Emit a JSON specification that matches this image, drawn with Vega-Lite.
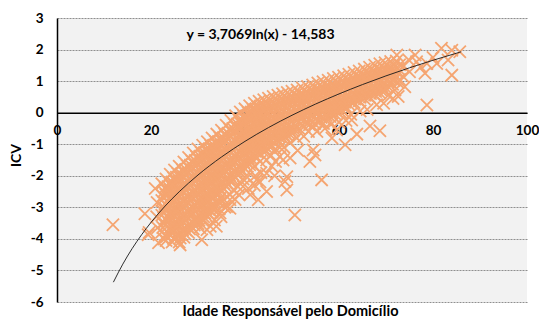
{
  "$schema": "https://vega.github.io/schema/vega-lite/v6.json",
  "width": 470,
  "height": 284,
  "autosize": {"type": "none"},
  "padding": {"left": 57, "top": 18, "right": 12, "bottom": 20},
  "background": "white",
  "config": {"view": {"fill": "#F2F2F2", "stroke": null}, "font": "Lato"},
  "datasets": {
    "pts": [
      {"x":11.9,"y":-3.55},{"x":18.7,"y":-3.2},{"x":19.6,"y":-3.8},{"x":20.9,"y":-2.4},{"x":21.3,"y":-2.85},{"x":21.2,"y":-3.3},{"x":21.6,"y":-4.12},{"x":21.4,"y":-3.65},
      {"x":22.3,"y":-2.25},{"x":22.7,"y":-2.5},{"x":22.3,"y":-2.78},{"x":22.7,"y":-3.0},{"x":22.3,"y":-3.25},{"x":22.7,"y":-3.5},{"x":22.3,"y":-3.78},{"x":22.7,"y":-4.0},
      {"x":23.2,"y":-2.1},{"x":23.6,"y":-2.35},{"x":23.2,"y":-2.6},{"x":23.6,"y":-2.82},{"x":23.2,"y":-3.08},{"x":23.6,"y":-3.3},{"x":23.2,"y":-3.55},{"x":23.6,"y":-3.8},{"x":23.2,"y":-4.05},
      {"x":24.1,"y":-1.95},{"x":24.5,"y":-2.2},{"x":24.1,"y":-2.45},{"x":24.5,"y":-2.7},{"x":24.1,"y":-2.92},{"x":24.5,"y":-3.18},{"x":24.1,"y":-3.4},{"x":24.5,"y":-3.65},{"x":24.1,"y":-3.88},{"x":24.5,"y":-4.1},
      {"x":25.0,"y":-1.82},{"x":25.4,"y":-2.05},{"x":25.0,"y":-2.3},{"x":25.4,"y":-2.55},{"x":25.0,"y":-2.8},{"x":25.4,"y":-3.02},{"x":25.0,"y":-3.27},{"x":25.4,"y":-3.5},{"x":25.0,"y":-3.74},{"x":25.4,"y":-3.96},
      {"x":26.0,"y":-1.7},{"x":26.4,"y":-1.95},{"x":26.0,"y":-2.18},{"x":26.4,"y":-2.42},{"x":26.0,"y":-2.66},{"x":26.4,"y":-2.9},{"x":26.0,"y":-3.14},{"x":26.4,"y":-3.38},{"x":26.0,"y":-3.6},{"x":26.4,"y":-3.85},{"x":26.0,"y":-4.1},
      {"x":27.0,"y":-1.56},{"x":27.4,"y":-1.8},{"x":27.0,"y":-2.04},{"x":27.4,"y":-2.28},{"x":27.0,"y":-2.52},{"x":27.4,"y":-2.76},{"x":27.0,"y":-3.0},{"x":27.4,"y":-3.24},{"x":27.0,"y":-3.48},{"x":27.4,"y":-3.72},{"x":27.0,"y":-3.95},
      {"x":28.0,"y":-1.42},{"x":28.4,"y":-1.66},{"x":28.0,"y":-1.9},{"x":28.4,"y":-2.14},{"x":28.0,"y":-2.38},{"x":28.4,"y":-2.62},{"x":28.0,"y":-2.86},{"x":28.4,"y":-3.1},{"x":28.0,"y":-3.34},{"x":28.4,"y":-3.58},{"x":28.0,"y":-3.8},
      {"x":29.0,"y":-1.28},{"x":29.4,"y":-1.52},{"x":29.0,"y":-1.76},{"x":29.4,"y":-2.0},{"x":29.0,"y":-2.24},{"x":29.4,"y":-2.48},{"x":29.0,"y":-2.72},{"x":29.4,"y":-2.96},{"x":29.0,"y":-3.2},{"x":29.4,"y":-3.44},{"x":29.0,"y":-3.68},
      {"x":30.0,"y":-1.15},{"x":30.4,"y":-1.38},{"x":30.0,"y":-1.62},{"x":30.4,"y":-1.86},{"x":30.0,"y":-2.1},{"x":30.4,"y":-2.34},{"x":30.0,"y":-2.58},{"x":30.4,"y":-2.82},{"x":30.0,"y":-3.06},{"x":30.4,"y":-3.3},{"x":30.0,"y":-3.52},
      {"x":31.0,"y":-1.03},{"x":31.4,"y":-1.27},{"x":31.0,"y":-1.5},{"x":31.4,"y":-1.74},{"x":31.0,"y":-1.98},{"x":31.4,"y":-2.22},{"x":31.0,"y":-2.46},{"x":31.4,"y":-2.7},{"x":31.0,"y":-2.94},{"x":31.4,"y":-3.18},{"x":31.0,"y":-3.42},
      {"x":32.0,"y":-0.92},{"x":32.4,"y":-1.15},{"x":32.0,"y":-1.4},{"x":32.4,"y":-1.64},{"x":32.0,"y":-1.88},{"x":32.4,"y":-2.12},{"x":32.0,"y":-2.36},{"x":32.4,"y":-2.6},{"x":32.0,"y":-2.84},{"x":32.4,"y":-3.08},{"x":32.0,"y":-3.3},
      {"x":33.0,"y":-0.8},{"x":33.4,"y":-1.04},{"x":33.0,"y":-1.28},{"x":33.4,"y":-1.52},{"x":33.0,"y":-1.76},{"x":33.4,"y":-2.0},{"x":33.0,"y":-2.24},{"x":33.4,"y":-2.48},{"x":33.0,"y":-2.72},{"x":33.4,"y":-2.96},{"x":33.0,"y":-3.15},
      {"x":34.0,"y":-0.68},{"x":34.4,"y":-0.92},{"x":34.0,"y":-1.16},{"x":34.4,"y":-1.4},{"x":34.0,"y":-1.64},{"x":34.4,"y":-1.88},{"x":34.0,"y":-2.12},{"x":34.4,"y":-2.36},{"x":34.0,"y":-2.6},{"x":34.4,"y":-2.85},
      {"x":35.0,"y":-0.56},{"x":35.4,"y":-0.8},{"x":35.0,"y":-1.04},{"x":35.4,"y":-1.28},{"x":35.0,"y":-1.52},{"x":35.4,"y":-1.76},{"x":35.0,"y":-2.0},{"x":35.4,"y":-2.24},{"x":35.0,"y":-2.5},
      {"x":36.0,"y":-0.4},{"x":36.4,"y":-0.65},{"x":36.0,"y":-0.9},{"x":36.4,"y":-1.14},{"x":36.0,"y":-1.38},{"x":36.4,"y":-1.62},{"x":36.0,"y":-1.86},{"x":36.4,"y":-2.1},{"x":36.0,"y":-2.34},
      {"x":37.0,"y":-0.25},{"x":37.4,"y":-0.5},{"x":37.0,"y":-0.75},{"x":37.4,"y":-1.0},{"x":37.0,"y":-1.24},{"x":37.4,"y":-1.48},{"x":37.0,"y":-1.72},{"x":37.4,"y":-1.96},{"x":37.0,"y":-2.2},
      {"x":38.0,"y":-0.1},{"x":38.4,"y":-0.36},{"x":38.0,"y":-0.6},{"x":38.4,"y":-0.85},{"x":38.0,"y":-1.1},{"x":38.4,"y":-1.34},{"x":38.0,"y":-1.58},{"x":38.4,"y":-1.82},{"x":38.0,"y":-2.06},
      {"x":39.0,"y":0.02},{"x":39.4,"y":-0.24},{"x":39.0,"y":-0.48},{"x":39.4,"y":-0.72},{"x":39.0,"y":-0.96},{"x":39.4,"y":-1.2},{"x":39.0,"y":-1.44},{"x":39.4,"y":-1.68},{"x":39.0,"y":-1.92},
      {"x":40.0,"y":0.12},{"x":40.4,"y":-0.12},{"x":40.0,"y":-0.36},{"x":40.4,"y":-0.6},{"x":40.0,"y":-0.84},{"x":40.4,"y":-1.08},{"x":40.0,"y":-1.32},{"x":40.4,"y":-1.56},{"x":40.0,"y":-1.78},
      {"x":41.0,"y":0.22},{"x":41.4,"y":-0.02},{"x":41.0,"y":-0.26},{"x":41.4,"y":-0.5},{"x":41.0,"y":-0.74},{"x":41.4,"y":-0.98},{"x":41.0,"y":-1.22},{"x":41.4,"y":-1.46},{"x":41.0,"y":-1.65},
      {"x":42.0,"y":0.3},{"x":42.4,"y":0.06},{"x":42.0,"y":-0.18},{"x":42.4,"y":-0.42},{"x":42.0,"y":-0.66},{"x":42.4,"y":-0.9},{"x":42.0,"y":-1.14},{"x":42.4,"y":-1.4},
      {"x":43.0,"y":0.36},{"x":43.4,"y":0.12},{"x":43.0,"y":-0.12},{"x":43.4,"y":-0.36},{"x":43.0,"y":-0.6},{"x":43.4,"y":-0.84},{"x":43.0,"y":-1.08},{"x":43.4,"y":-1.32},
      {"x":44.0,"y":0.41},{"x":44.4,"y":0.17},{"x":44.0,"y":-0.07},{"x":44.4,"y":-0.31},{"x":44.0,"y":-0.55},{"x":44.4,"y":-0.79},{"x":44.0,"y":-1.03},{"x":44.4,"y":-1.22},
      {"x":45.0,"y":0.46},{"x":45.4,"y":0.22},{"x":45.0,"y":-0.02},{"x":45.4,"y":-0.26},{"x":45.0,"y":-0.5},{"x":45.4,"y":-0.74},{"x":45.0,"y":-0.98},{"x":45.4,"y":-1.1},
      {"x":46.0,"y":0.51},{"x":46.4,"y":0.27},{"x":46.0,"y":0.03},{"x":46.4,"y":-0.21},{"x":46.0,"y":-0.45},{"x":46.4,"y":-0.69},{"x":46.0,"y":-0.94},
      {"x":47.0,"y":0.55},{"x":47.4,"y":0.31},{"x":47.0,"y":0.07},{"x":47.4,"y":-0.17},{"x":47.0,"y":-0.41},{"x":47.4,"y":-0.65},{"x":47.0,"y":-0.86},
      {"x":48.0,"y":0.6},{"x":48.4,"y":0.36},{"x":48.0,"y":0.12},{"x":48.4,"y":-0.12},{"x":48.0,"y":-0.36},{"x":48.4,"y":-0.6},{"x":48.0,"y":-0.8},
      {"x":49.0,"y":0.64},{"x":49.4,"y":0.4},{"x":49.0,"y":0.16},{"x":49.4,"y":-0.08},{"x":49.0,"y":-0.32},{"x":49.4,"y":-0.56},{"x":49.0,"y":-0.72},
      {"x":50.0,"y":0.68},{"x":50.4,"y":0.44},{"x":50.0,"y":0.2},{"x":50.4,"y":-0.04},{"x":50.0,"y":-0.28},{"x":50.4,"y":-0.52},{"x":50.0,"y":-0.65},
      {"x":51.1,"y":0.72},{"x":51.5,"y":0.48},{"x":51.1,"y":0.24},{"x":51.5,"y":0.0},{"x":51.1,"y":-0.24},{"x":51.5,"y":-0.5},
      {"x":52.2,"y":0.78},{"x":52.6,"y":0.54},{"x":52.2,"y":0.3},{"x":52.6,"y":0.06},{"x":52.2,"y":-0.18},{"x":52.6,"y":-0.44},
      {"x":53.3,"y":0.83},{"x":53.7,"y":0.59},{"x":53.3,"y":0.35},{"x":53.7,"y":0.11},{"x":53.3,"y":-0.13},{"x":53.7,"y":-0.38},
      {"x":54.4,"y":0.88},{"x":54.8,"y":0.64},{"x":54.4,"y":0.4},{"x":54.8,"y":0.16},{"x":54.4,"y":-0.08},{"x":54.8,"y":-0.34},
      {"x":55.5,"y":0.94},{"x":55.9,"y":0.7},{"x":55.5,"y":0.46},{"x":55.9,"y":0.22},{"x":55.5,"y":-0.02},{"x":55.9,"y":-0.28},
      {"x":56.6,"y":0.98},{"x":57.0,"y":0.74},{"x":56.6,"y":0.5},{"x":57.0,"y":0.26},{"x":56.6,"y":0.02},{"x":57.0,"y":-0.2},
      {"x":57.7,"y":1.03},{"x":58.1,"y":0.79},{"x":57.7,"y":0.55},{"x":58.1,"y":0.31},{"x":57.7,"y":0.07},{"x":58.1,"y":-0.12},
      {"x":58.8,"y":1.08},{"x":59.2,"y":0.84},{"x":58.8,"y":0.6},{"x":59.2,"y":0.36},{"x":58.8,"y":0.12},{"x":59.2,"y":-0.05},
      {"x":59.9,"y":1.12},{"x":60.3,"y":0.88},{"x":59.9,"y":0.64},{"x":60.3,"y":0.4},{"x":59.9,"y":0.16},{"x":60.3,"y":0.02},
      {"x":61.0,"y":1.17},{"x":61.4,"y":0.93},{"x":61.0,"y":0.69},{"x":61.4,"y":0.45},{"x":61.0,"y":0.21},{"x":61.4,"y":0.1},
      {"x":62.1,"y":1.22},{"x":62.5,"y":0.98},{"x":62.1,"y":0.74},{"x":62.5,"y":0.5},{"x":62.1,"y":0.26},
      {"x":63.2,"y":1.27},{"x":63.6,"y":1.03},{"x":63.2,"y":0.79},{"x":63.6,"y":0.55},{"x":63.2,"y":0.32},
      {"x":64.3,"y":1.32},{"x":64.7,"y":1.08},{"x":64.3,"y":0.84},{"x":64.7,"y":0.6},{"x":64.3,"y":0.38},
      {"x":65.4,"y":1.38},{"x":65.8,"y":1.14},{"x":65.4,"y":0.9},{"x":65.8,"y":0.66},{"x":65.4,"y":0.44},
      {"x":66.5,"y":1.44},{"x":66.9,"y":1.2},{"x":66.5,"y":0.96},{"x":66.9,"y":0.72},{"x":66.5,"y":0.5},
      {"x":67.6,"y":1.5},{"x":68.0,"y":1.26},{"x":67.6,"y":1.02},{"x":68.0,"y":0.78},{"x":67.6,"y":0.56},
      {"x":68.7,"y":1.55},{"x":69.1,"y":1.31},{"x":68.7,"y":1.07},{"x":69.1,"y":0.83},{"x":68.7,"y":0.62},
      {"x":69.8,"y":1.58},{"x":70.2,"y":1.34},{"x":69.8,"y":1.1},{"x":70.2,"y":0.86},{"x":69.8,"y":0.7},
      {"x":71.0,"y":1.62},{"x":71.4,"y":1.38},{"x":71.0,"y":1.14},{"x":71.4,"y":0.9},
      {"x":72.2,"y":1.64},{"x":72.6,"y":1.4},{"x":72.2,"y":1.16},{"x":72.6,"y":0.95},

      {"x":23.0,"y":-2.37},{"x":22.5,"y":-2.64},{"x":23.0,"y":-2.89},{"x":22.5,"y":-3.12},{"x":23.0,"y":-3.37},{"x":22.5,"y":-3.64},{"x":23.0,"y":-3.89},
      {"x":23.9,"y":-2.22},{"x":23.4,"y":-2.47},{"x":23.9,"y":-2.71},{"x":23.4,"y":-2.95},{"x":23.9,"y":-3.19},{"x":23.4,"y":-3.42},{"x":23.9,"y":-3.67},{"x":23.4,"y":-3.92},
      {"x":24.8,"y":-2.07},{"x":24.3,"y":-2.32},{"x":24.8,"y":-2.57},{"x":24.3,"y":-2.81},{"x":24.8,"y":-3.05},{"x":24.3,"y":-3.29},{"x":24.8,"y":-3.52},{"x":24.3,"y":-3.76},{"x":24.8,"y":-3.99},
      {"x":25.7,"y":-1.93},{"x":25.2,"y":-2.17},{"x":25.7,"y":-2.42},{"x":25.2,"y":-2.67},{"x":25.7,"y":-2.91},{"x":25.2,"y":-3.14},{"x":25.7,"y":-3.38},{"x":25.2,"y":-3.62},{"x":25.7,"y":-3.85},
      {"x":26.7,"y":-1.82},{"x":26.2,"y":-2.06},{"x":26.7,"y":-2.3},{"x":26.2,"y":-2.54},{"x":26.7,"y":-2.78},{"x":26.2,"y":-3.02},{"x":26.7,"y":-3.26},{"x":26.2,"y":-3.49},{"x":26.7,"y":-3.72},{"x":26.2,"y":-3.97},
      {"x":27.7,"y":-1.68},{"x":27.2,"y":-1.92},{"x":27.7,"y":-2.16},{"x":27.2,"y":-2.4},{"x":27.7,"y":-2.64},{"x":27.2,"y":-2.88},{"x":27.7,"y":-3.12},{"x":27.2,"y":-3.36},{"x":27.7,"y":-3.6},{"x":27.2,"y":-3.84},
      {"x":28.7,"y":-1.54},{"x":28.2,"y":-1.78},{"x":28.7,"y":-2.02},{"x":28.2,"y":-2.26},{"x":28.7,"y":-2.5},{"x":28.2,"y":-2.74},{"x":28.7,"y":-2.98},{"x":28.2,"y":-3.22},{"x":28.7,"y":-3.46},{"x":28.2,"y":-3.69},
      {"x":29.7,"y":-1.4},{"x":29.2,"y":-1.64},{"x":29.7,"y":-1.88},{"x":29.2,"y":-2.12},{"x":29.7,"y":-2.36},{"x":29.2,"y":-2.6},{"x":29.7,"y":-2.84},{"x":29.2,"y":-3.08},{"x":29.7,"y":-3.32},{"x":29.2,"y":-3.56},
      {"x":30.7,"y":-1.27},{"x":30.2,"y":-1.5},{"x":30.7,"y":-1.74},{"x":30.2,"y":-1.98},{"x":30.7,"y":-2.22},{"x":30.2,"y":-2.46},{"x":30.7,"y":-2.7},{"x":30.2,"y":-2.94},{"x":30.7,"y":-3.18},{"x":30.2,"y":-3.41},
      {"x":31.7,"y":-1.15},{"x":31.2,"y":-1.39},{"x":31.7,"y":-1.62},{"x":31.2,"y":-1.86},{"x":31.7,"y":-2.1},{"x":31.2,"y":-2.34},{"x":31.7,"y":-2.58},{"x":31.2,"y":-2.82},{"x":31.7,"y":-3.06},{"x":31.2,"y":-3.3},
      {"x":32.7,"y":-1.04},{"x":32.2,"y":-1.28},{"x":32.7,"y":-1.52},{"x":32.2,"y":-1.76},{"x":32.7,"y":-2.0},{"x":32.2,"y":-2.24},{"x":32.7,"y":-2.48},{"x":32.2,"y":-2.72},{"x":32.7,"y":-2.96},{"x":32.2,"y":-3.19},
      {"x":33.7,"y":-0.92},{"x":33.2,"y":-1.16},{"x":33.7,"y":-1.4},{"x":33.2,"y":-1.64},{"x":33.7,"y":-1.88},{"x":33.2,"y":-2.12},{"x":33.7,"y":-2.36},{"x":33.2,"y":-2.6},{"x":33.7,"y":-2.84},{"x":33.2,"y":-3.06},
      {"x":34.7,"y":-0.8},{"x":34.2,"y":-1.04},{"x":34.7,"y":-1.28},{"x":34.2,"y":-1.52},{"x":34.7,"y":-1.76},{"x":34.2,"y":-2.0},{"x":34.7,"y":-2.24},{"x":34.2,"y":-2.48},{"x":34.7,"y":-2.72},
      {"x":35.7,"y":-0.68},{"x":35.2,"y":-0.92},{"x":35.7,"y":-1.16},{"x":35.2,"y":-1.4},{"x":35.7,"y":-1.64},{"x":35.2,"y":-1.88},{"x":35.7,"y":-2.12},{"x":35.2,"y":-2.37},
      {"x":36.7,"y":-0.52},{"x":36.2,"y":-0.78},{"x":36.7,"y":-1.02},{"x":36.2,"y":-1.26},{"x":36.7,"y":-1.5},{"x":36.2,"y":-1.74},{"x":36.7,"y":-1.98},{"x":36.2,"y":-2.22},
      {"x":37.7,"y":-0.37},{"x":37.2,"y":-0.62},{"x":37.7,"y":-0.87},{"x":37.2,"y":-1.12},{"x":37.7,"y":-1.36},{"x":37.2,"y":-1.6},{"x":37.7,"y":-1.84},{"x":37.2,"y":-2.08},
      {"x":38.7,"y":-0.23},{"x":38.2,"y":-0.48},{"x":38.7,"y":-0.72},{"x":38.2,"y":-0.97},{"x":38.7,"y":-1.22},{"x":38.2,"y":-1.46},{"x":38.7,"y":-1.7},{"x":38.2,"y":-1.94},
      {"x":39.7,"y":-0.11},{"x":39.2,"y":-0.36},{"x":39.7,"y":-0.6},{"x":39.2,"y":-0.84},{"x":39.7,"y":-1.08},{"x":39.2,"y":-1.32},{"x":39.7,"y":-1.56},{"x":39.2,"y":-1.8},
      {"x":40.7,"y":0.0},{"x":40.2,"y":-0.24},{"x":40.7,"y":-0.48},{"x":40.2,"y":-0.72},{"x":40.7,"y":-0.96},{"x":40.2,"y":-1.2},{"x":40.7,"y":-1.44},{"x":40.2,"y":-1.67},
      {"x":41.7,"y":0.1},{"x":41.2,"y":-0.14},{"x":41.7,"y":-0.38},{"x":41.2,"y":-0.62},{"x":41.7,"y":-0.86},{"x":41.2,"y":-1.1},{"x":41.7,"y":-1.34},{"x":41.2,"y":-1.55},
      {"x":42.7,"y":0.18},{"x":42.2,"y":-0.06},{"x":42.7,"y":-0.3},{"x":42.2,"y":-0.54},{"x":42.7,"y":-0.78},{"x":42.2,"y":-1.02},{"x":42.7,"y":-1.27},
      {"x":43.7,"y":0.24},{"x":43.2,"y":0.0},{"x":43.7,"y":-0.24},{"x":43.2,"y":-0.48},{"x":43.7,"y":-0.72},{"x":43.2,"y":-0.96},{"x":43.7,"y":-1.2},
      {"x":44.7,"y":0.29},{"x":44.2,"y":0.05},{"x":44.7,"y":-0.19},{"x":44.2,"y":-0.43},{"x":44.7,"y":-0.67},{"x":44.2,"y":-0.91},{"x":44.7,"y":-1.12},
      {"x":45.7,"y":0.34},{"x":45.2,"y":0.1},{"x":45.7,"y":-0.14},{"x":45.2,"y":-0.38},{"x":45.7,"y":-0.62},{"x":45.2,"y":-0.86},{"x":45.7,"y":-1.04},
      {"x":46.7,"y":0.39},{"x":46.2,"y":0.15},{"x":46.7,"y":-0.09},{"x":46.2,"y":-0.33},{"x":46.7,"y":-0.57},{"x":46.2,"y":-0.81},
      {"x":47.7,"y":0.43},{"x":47.2,"y":0.19},{"x":47.7,"y":-0.05},{"x":47.2,"y":-0.29},{"x":47.7,"y":-0.53},{"x":47.2,"y":-0.76},
      {"x":48.7,"y":0.48},{"x":48.2,"y":0.24},{"x":48.7,"y":0.0},{"x":48.2,"y":-0.24},{"x":48.7,"y":-0.48},{"x":48.2,"y":-0.7},
      {"x":49.7,"y":0.52},{"x":49.2,"y":0.28},{"x":49.7,"y":0.04},{"x":49.2,"y":-0.2},{"x":49.7,"y":-0.44},{"x":49.2,"y":-0.64},
      {"x":50.7,"y":0.56},{"x":50.2,"y":0.32},{"x":50.7,"y":0.08},{"x":50.2,"y":-0.16},{"x":50.7,"y":-0.4},{"x":50.2,"y":-0.58},
      {"x":51.8,"y":0.6},{"x":51.3,"y":0.36},{"x":51.8,"y":0.12},{"x":51.3,"y":-0.12},{"x":51.8,"y":-0.37},
      {"x":52.9,"y":0.66},{"x":52.4,"y":0.42},{"x":52.9,"y":0.18},{"x":52.4,"y":-0.06},{"x":52.9,"y":-0.31},
      {"x":54.0,"y":0.71},{"x":53.5,"y":0.47},{"x":54.0,"y":0.23},{"x":53.5,"y":-0.01},{"x":54.0,"y":-0.25},
      {"x":55.1,"y":0.76},{"x":54.6,"y":0.52},{"x":55.1,"y":0.28},{"x":54.6,"y":0.04},{"x":55.1,"y":-0.21},
      {"x":56.2,"y":0.82},{"x":55.7,"y":0.58},{"x":56.2,"y":0.34},{"x":55.7,"y":0.1},{"x":56.2,"y":-0.15},
      {"x":57.3,"y":0.86},{"x":56.8,"y":0.62},{"x":57.3,"y":0.38},{"x":56.8,"y":0.14},{"x":57.3,"y":-0.09},
      {"x":58.4,"y":0.91},{"x":57.9,"y":0.67},{"x":58.4,"y":0.43},{"x":57.9,"y":0.19},{"x":58.4,"y":-0.02},
      {"x":59.5,"y":0.96},{"x":59.0,"y":0.72},{"x":59.5,"y":0.48},{"x":59.0,"y":0.24},{"x":59.5,"y":0.04},
      {"x":60.6,"y":1.0},{"x":60.1,"y":0.76},{"x":60.6,"y":0.52},{"x":60.1,"y":0.28},{"x":60.6,"y":0.09},
      {"x":61.7,"y":1.05},{"x":61.2,"y":0.81},{"x":61.7,"y":0.57},{"x":61.2,"y":0.33},{"x":61.7,"y":0.15},
      {"x":62.8,"y":1.1},{"x":62.3,"y":0.86},{"x":62.8,"y":0.62},{"x":62.3,"y":0.38},
      {"x":63.9,"y":1.15},{"x":63.4,"y":0.91},{"x":63.9,"y":0.67},{"x":63.4,"y":0.43},
      {"x":65.0,"y":1.2},{"x":64.5,"y":0.96},{"x":65.0,"y":0.72},{"x":64.5,"y":0.49},
      {"x":66.1,"y":1.26},{"x":65.6,"y":1.02},{"x":66.1,"y":0.78},{"x":65.6,"y":0.55},
      {"x":67.2,"y":1.32},{"x":66.7,"y":1.08},{"x":67.2,"y":0.84},{"x":66.7,"y":0.61},
      {"x":68.3,"y":1.38},{"x":67.8,"y":1.14},{"x":68.3,"y":0.9},{"x":67.8,"y":0.67},
      {"x":69.4,"y":1.43},{"x":68.9,"y":1.19},{"x":69.4,"y":0.95},{"x":68.9,"y":0.72},
      {"x":70.5,"y":1.46},{"x":70.0,"y":1.22},{"x":70.5,"y":0.98},{"x":70.0,"y":0.78},
      {"x":71.7,"y":1.5},{"x":71.2,"y":1.26},{"x":71.7,"y":1.02},
      {"x":72.9,"y":1.52},{"x":72.4,"y":1.28},{"x":72.9,"y":1.05},

      {"x":19.4,"y":-3.87},{"x":26.2,"y":-4.19},{"x":30.8,"y":-4.03},{"x":30.4,"y":-3.65},{"x":31.9,"y":-3.71},{"x":32.6,"y":-3.6},{"x":34.7,"y":-3.18},{"x":29.7,"y":-3.4},
      {"x":33.5,"y":-3.4},{"x":33.9,"y":-3.6},{"x":34.5,"y":-3.05},{"x":34.9,"y":-3.3},{"x":35.5,"y":-2.75},{"x":35.7,"y":-3.0},{"x":36.1,"y":-2.97},{"x":36.8,"y":-2.6},{"x":36.8,"y":-3.03},{"x":36.8,"y":-2.76},
      {"x":37.5,"y":-2.45},{"x":37.9,"y":-2.75},{"x":38.5,"y":-2.35},{"x":38.7,"y":-2.6},{"x":39.6,"y":-2.1},{"x":39.6,"y":-2.34},{"x":40.5,"y":-2.05},{"x":40.7,"y":-2.4},{"x":41.1,"y":-2.6},
      {"x":42.0,"y":-1.7},{"x":42.2,"y":-2.0},{"x":42.5,"y":-2.13},{"x":42.0,"y":-2.3},{"x":42.8,"y":-2.76},{"x":43.2,"y":-1.55},{"x":43.4,"y":-1.9},{"x":43.2,"y":-2.2},
      {"x":44.6,"y":-1.5},{"x":44.6,"y":-1.92},{"x":44.6,"y":-2.5},{"x":45.5,"y":-1.35},{"x":45.7,"y":-1.7},{"x":46.5,"y":-1.15},{"x":46.5,"y":-1.55},{"x":46.3,"y":-2.0},
      {"x":47.4,"y":-1.1},{"x":47.4,"y":-1.39},{"x":48.1,"y":-1.5},{"x":48.3,"y":-1.1},{"x":48.5,"y":-2.18},{"x":48.9,"y":-2.03},{"x":48.9,"y":-2.45},{"x":49.6,"y":-0.95},{"x":49.6,"y":-1.44},
      {"x":50.6,"y":-3.24},{"x":51.0,"y":-0.8},{"x":51.2,"y":-1.2},{"x":52.5,"y":-0.75},{"x":53.5,"y":-0.6},{"x":53.8,"y":-1.55},{"x":54.5,"y":-1.18},{"x":54.9,"y":-1.34},{"x":54.5,"y":-0.44},
      {"x":55.3,"y":-0.6},{"x":56.3,"y":-2.13},{"x":56.7,"y":-0.34},{"x":57.0,"y":-0.5},{"x":58.5,"y":-0.35},{"x":58.5,"y":-0.8},{"x":59.5,"y":-0.55},{"x":61.3,"y":-1.02},{"x":60.0,"y":-0.3},
      {"x":61.5,"y":-0.25},{"x":62.7,"y":-0.23},{"x":62.5,"y":-0.05},{"x":63.8,"y":-0.68},{"x":64.5,"y":0.05},{"x":66.6,"y":-0.42},{"x":66.0,"y":0.1},{"x":68.7,"y":-0.57},{"x":68.0,"y":0.25},
      {"x":69.5,"y":0.3},{"x":70.5,"y":0.55},{"x":71.5,"y":0.45},{"x":71.9,"y":0.72},{"x":72.6,"y":0.51},{"x":74.0,"y":0.82},{"x":73.7,"y":1.14},{"x":73.7,"y":1.46},{"x":72.3,"y":1.83},
      {"x":76.2,"y":1.83},{"x":76.5,"y":1.61},{"x":78.7,"y":1.56},{"x":78.3,"y":1.25},{"x":80.8,"y":1.56},{"x":83.2,"y":1.67},{"x":84.0,"y":1.19},{"x":81.8,"y":2.04},{"x":84.0,"y":1.98},
      {"x":85.7,"y":1.93},{"x":78.7,"y":0.24},{"x":75.0,"y":1.3},{"x":77.4,"y":1.45},{"x":74.8,"y":1.68},{"x":80.0,"y":1.75}
    ],
    "fit": [
      {"x":12,"y":-5.372},{"x":14,"y":-4.8},{"x":16,"y":-4.305},{"x":18,"y":-3.869},{"x":20,"y":-3.478},
      {"x":23,"y":-2.96},{"x":26,"y":-2.506},{"x":30,"y":-1.975},{"x":35,"y":-1.404},{"x":40,"y":-0.909},
      {"x":45,"y":-0.472},{"x":50,"y":-0.082},{"x":55,"y":0.272},{"x":60,"y":0.594},{"x":65,"y":0.891},
      {"x":70,"y":1.166},{"x":75,"y":1.422},{"x":80,"y":1.661},{"x":86,"y":1.929}
    ],
    "eq": [{"x":43.3,"y":2.46,"label":"y = 3,7069ln(x) - 14,583"}]
  },
  "encoding": {
    "x": {
      "field": "x", "type": "quantitative",
      "scale": {"domain": [0, 100], "nice": false},
      "axis": {
        "title": "Idade Responsável pelo Domicílio",
        "values": [0, 20, 40, 60, 80, 100],
        "orient": "bottom", "offset": -189.33,
        "grid": false, "ticks": false,
        "domainColor": "black", "domainWidth": 1.5,
        "labelFont": "Lato", "labelFontWeight": "bold", "labelFontSize": 13.5, "labelColor": "black",
        "labelPadding": 11, "labelFlush": false, "labelOverlap": false,
        "titleFont": "Lato", "titleFontWeight": "bold", "titleFontSize": 14.5, "titleColor": "black",
        "titleX": 233, "titleY": 203, "titleBaseline": "alphabetic"
      }
    },
    "y": {
      "field": "y", "type": "quantitative",
      "scale": {"domain": [-6, 3], "nice": false},
      "axis": {
        "title": "ICV",
        "values": [-6, -5, -4, -3, -2, -1, 0, 1, 2, 3],
        "labelExpr": "'' + datum.value",
        "grid": true, "gridColor": "#8f8f8f", "gridDash": [2, 1], "gridWidth": 1,
        "ticks": false,
        "domainColor": "black", "domainWidth": 1.5,
        "labelFont": "Lato", "labelFontWeight": "bold", "labelFontSize": 13.5, "labelColor": "black",
        "labelPadding": 14, "labelFlush": false, "labelOverlap": false,
        "titleFont": "Lato", "titleFontWeight": "bold", "titleFontSize": 14, "titleColor": "black",
        "titleX": -41, "titleY": 137, "titleBaseline": "middle"
      }
    }
  },
  "layer": [
    {
      "data": {"name": "pts"},
      "mark": {"type": "point", "shape": "M-1,-1L1,1M-1,1L1,-1", "filled": false, "size": 150, "strokeWidth": 1.8, "color": "#F5A571", "opacity": 1}
    },
    {
      "data": {"name": "fit"},
      "mark": {"type": "line", "color": "#1a1a1a", "strokeWidth": 0.9, "interpolate": "monotone"}
    },
    {
      "data": {"name": "eq"},
      "mark": {"type": "text", "font": "Lato", "fontWeight": "bold", "fontSize": 14, "align": "center", "baseline": "middle", "color": "black"},
      "encoding": {"text": {"field": "label"}}
    }
  ]
}
